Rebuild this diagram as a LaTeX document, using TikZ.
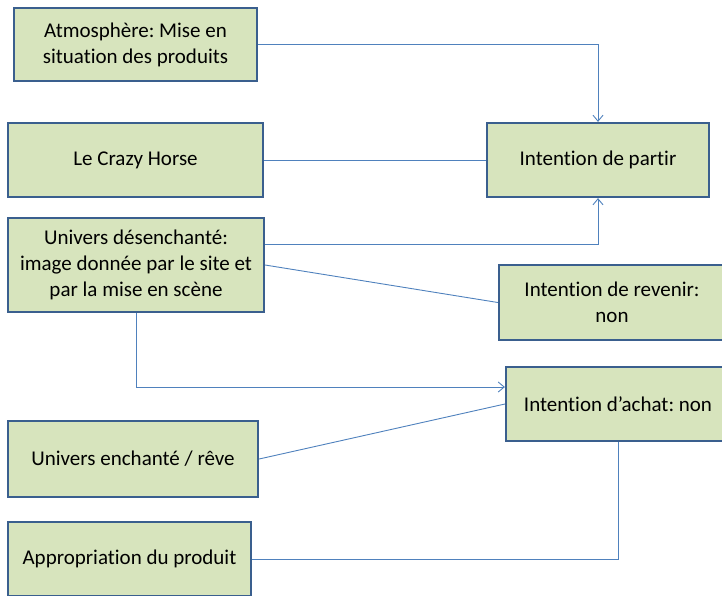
\documentclass[tikz,border=0pt]{standalone}
\usepackage{fontspec}
\setmainfont{Carlito}[Ligatures=NoCommon]
\usepackage{tikz}
\usepackage{xcolor}
\usetikzlibrary{arrows.meta,calc,positioning}
\definecolor{boxfill}{HTML}{D7E4BD}
\definecolor{boxline}{HTML}{3A5F8E}
\definecolor{linkline}{HTML}{4F81BD}
\frenchspacing
\tikzset{%
	block/.style = {draw=boxline, fill=boxfill, line width=2.2pt, rectangle, minimum height=74pt, text centered, align=center, font=\fontsize{21}{26}\selectfont}, % Box
	link/.style  = {draw=linkline, line width=0.9pt}, % Connector
}

\begin{document}
\begin{tikzpicture}[x=1pt,y=-1pt,>={Straight Barb[length=6pt,width=10pt]}]
	\clip (0,0) rectangle (722,595);
	\node [block, minimum width=243pt, minimum height=73pt] (atmo) at (135.5,44.5) {Atmosphère: Mise en\\situation des produits};
	\node [block, minimum width=255pt] (crazy) at (135.5,160) {Le Crazy Horse};
	\node [block, minimum width=222pt] (partir) at (598,160) {Intention de partir};
	\node [block, minimum width=256pt, minimum height=94pt] (desench) at (136,265) {Univers désenchanté:\\image donnée par le site et\\par la mise en scène};
	\node [block, minimum width=226pt, minimum height=75pt] (revenir) at (612,302.5) {Intention de revenir:\\non};
	\node [block, minimum width=224pt] (achat) at (618,404) {Intention d’achat: non};
	\node [block, minimum width=250pt, minimum height=76pt] (enchant) at (133,459) {Univers enchanté / rêve};
	\node [block, minimum width=243pt] (approp) at (129.5,559) {Appropriation du produit};

	\draw[link,->] (atmo.east) -| (partir.north);
	\draw[link] (crazy.east) -- (partir.west);
	\draw[link,->] ([yshift=21pt]desench.east) -| (partir.south);
	\draw[link] (desench.east) -- (revenir.west);
	\draw[link,->] (desench.south) |- ([yshift=17pt]achat.west);
	\draw[link] (enchant.east) -- (achat.west);
	\draw[link] (approp.east) -| (achat.south);
\end{tikzpicture}
\end{document}
